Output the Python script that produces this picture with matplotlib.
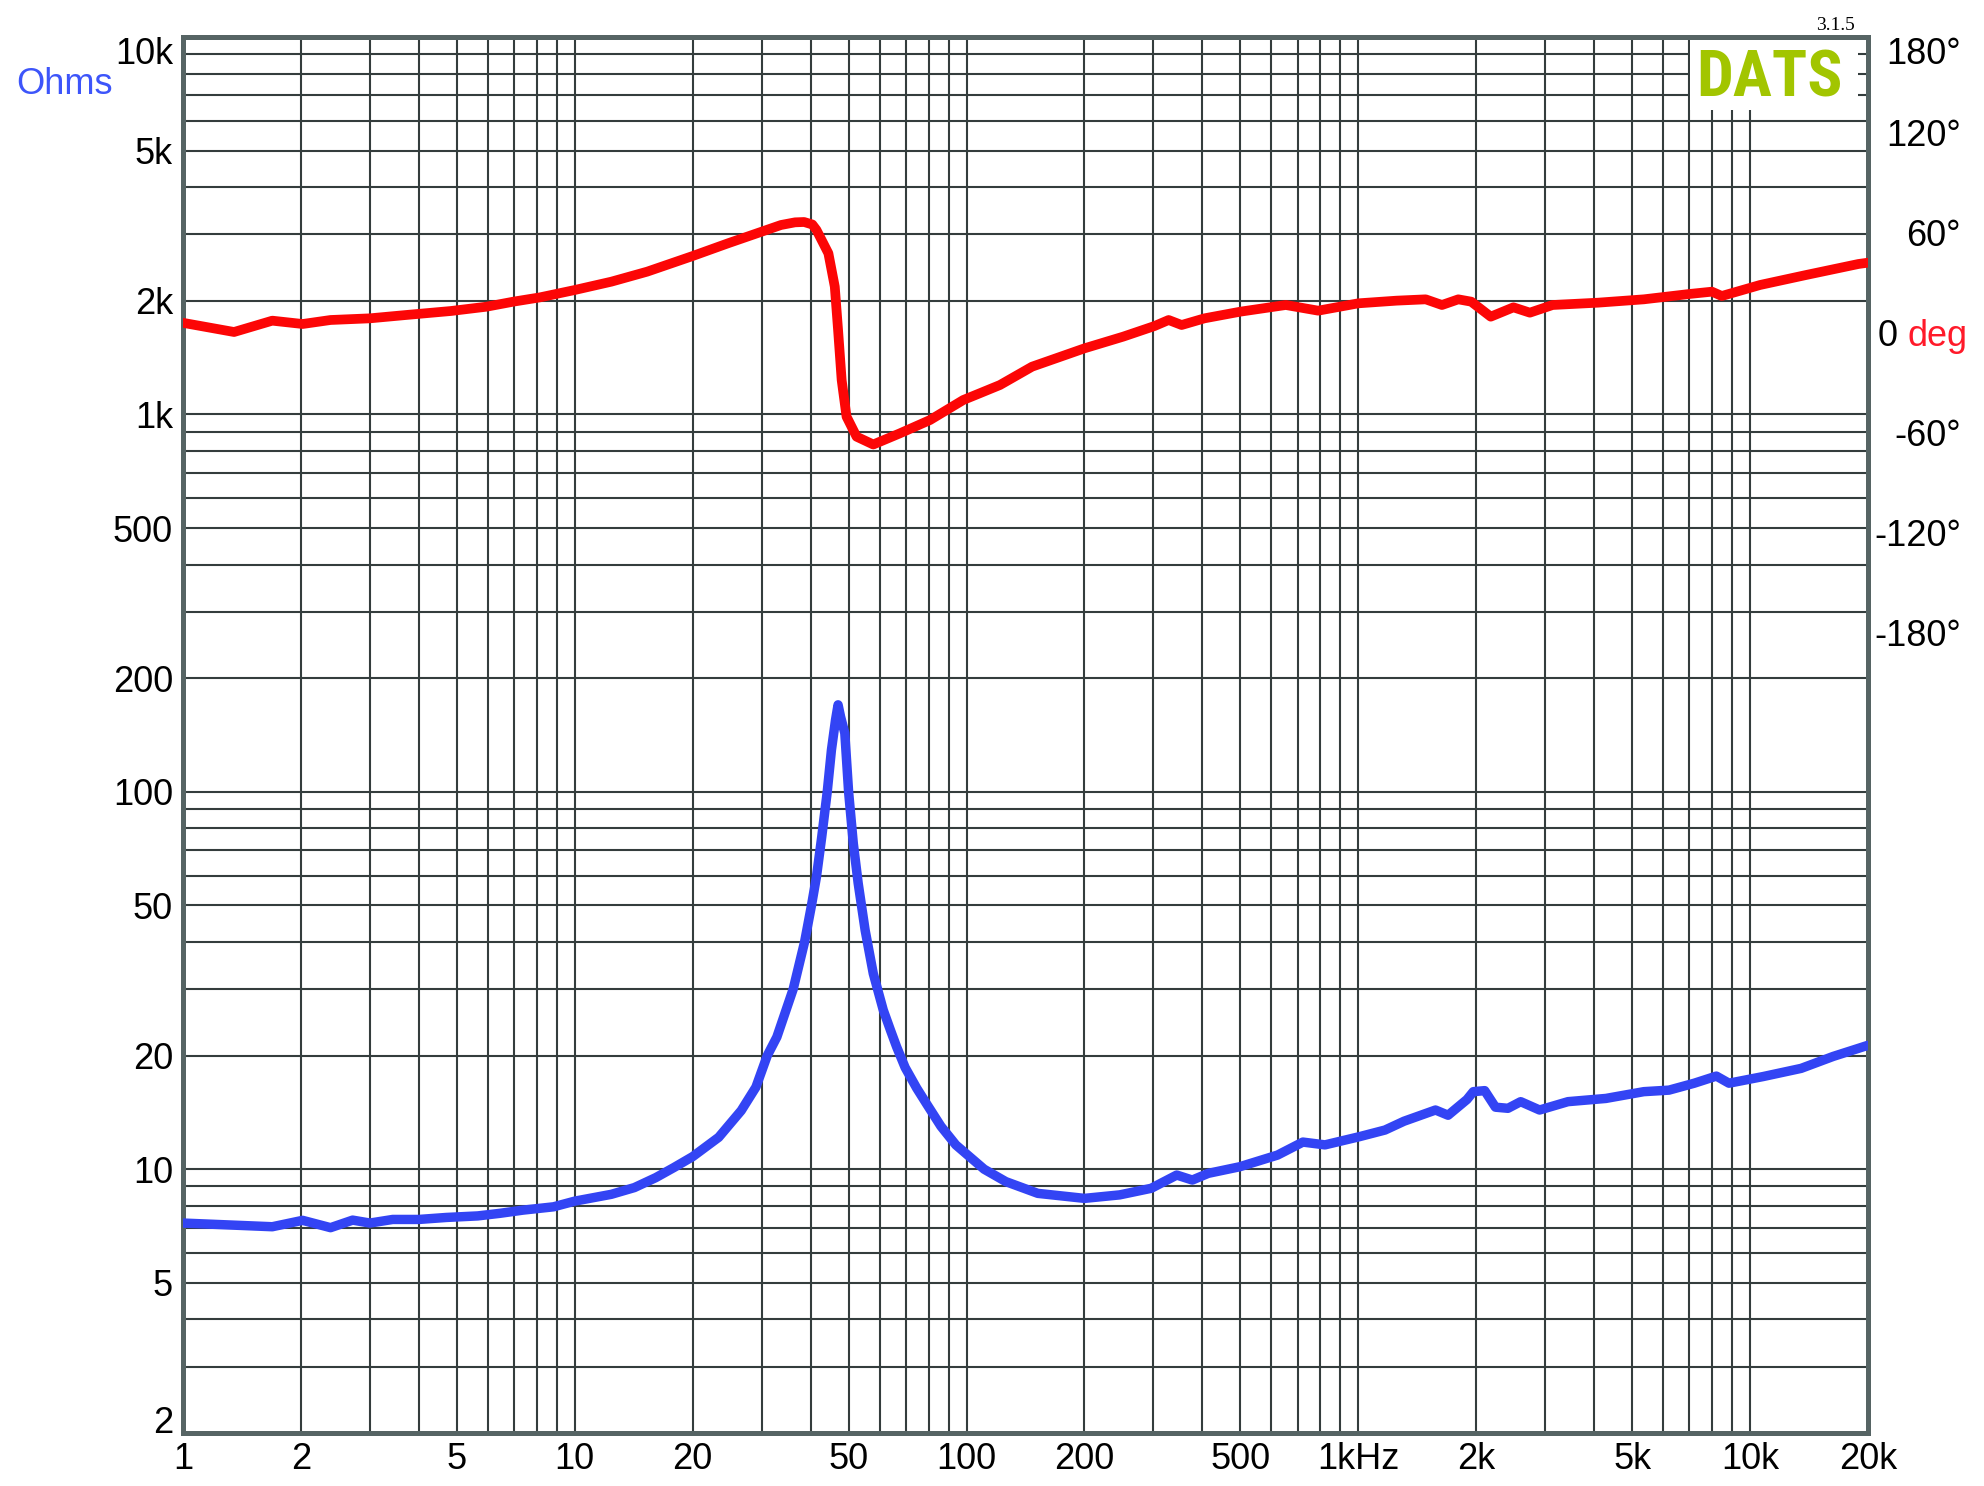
import numpy as np
import matplotlib
matplotlib.use('Agg')
import matplotlib.pyplot as plt
from matplotlib import font_manager
from matplotlib.patches import Rectangle
from matplotlib.ticker import FixedLocator, NullFormatter
import matplotlib.transforms as mtransforms

# impedance magnitude (Hz, ohms)
imp_freq = [1.0, 1.69, 2.02, 2.38, 2.71, 3.0, 3.43, 4.0, 4.7, 5.65, 6.44, 7.37, 8.83,
            10, 12.4, 14.2, 16.1, 17.9, 20, 23.3, 26.6, 29.0, 31.0, 32.8, 36.1, 38.6,
            40.2, 41.4, 42.7, 44.1, 45.2, 46.3, 47.0, 47.7, 48.9, 50.0, 51.4, 52.9,
            55.1, 57.8, 61.3, 64.0, 66.3, 69.7, 74.6, 79.4, 86.0, 93.9, 110.9, 126, 152, 200,
            246, 296, 344, 377, 414, 498, 622, 722, 822, 1008, 1170, 1308, 1574,
            1695, 1894, 1966, 2102, 2239, 2410, 2597, 2902, 3429, 4285, 5355, 6209,
            7205, 8203, 8834, 10800, 13500, 16300, 20000]
imp_ohms = [7.2, 7.04, 7.32, 7.0, 7.33, 7.2, 7.36, 7.36, 7.45, 7.52, 7.64, 7.79, 7.95,
            8.23, 8.58, 8.94, 9.5, 10.1, 10.8, 12.15, 14.3, 16.5, 20.0, 22.4, 30, 40,
            50, 59.6, 76, 100, 129, 155, 170, 158, 143, 100, 73, 57.2,
            43, 33, 26.4, 23.3, 21.1, 18.6, 16.4, 14.8, 13.0, 11.6, 10.0, 9.27, 8.63, 8.37,
            8.55, 8.9, 9.65, 9.36, 9.75, 10.15, 10.9, 11.8, 11.6, 12.2, 12.7, 13.4, 14.35,
            13.9, 15.3, 16.05, 16.15, 14.6, 14.5, 15.1, 14.35, 15.1, 15.4, 16.05, 16.2,
            16.9, 17.65, 16.9, 17.6, 18.5, 19.9, 21.3]

# phase (Hz, degrees)
ph_freq = [1.0, 1.35, 1.69, 2.02, 2.38, 3.0, 3.71, 4.83, 5.96, 6.97, 8.16, 10, 12.4,
           15.3, 20, 24.6, 30, 33.6, 36.5, 38.5, 40.4, 41.4, 44.4, 46.1, 47.0, 48.0, 49.4,
           52.4, 57.8, 67.6, 80.7, 98.1, 108, 121.7, 147, 200, 251, 302, 328, 354,
           405, 500, 653, 790, 1000, 1251, 1486, 1635, 1800, 1942, 2178, 2489, 2741,
           3133, 4093, 5355, 6995, 7992, 8468, 10600, 13900, 18900, 20000]
ph_deg = [5.5, 0.0, 6.8, 4.8, 7.2, 8.2, 10.2, 12.6, 15.2, 18.2, 20.8, 25.2, 30.2,
          36.2, 45.6, 53.2, 60.2, 64.2, 65.8, 66.0, 64.5, 61.2, 47.2, 27.2, 1.2, -28.8, -50.8,
          -62.8, -67.5, -60.8, -52.8, -40.8, -36.8, -31.8, -20.8, -9.8, -2.8, 3.6, 7.2, 4.2,
          8.2, 12.2, 16.2, 12.8, 17.2, 18.8, 19.6, 16.2, 19.6, 18.2, 9.2, 14.8, 11.6,
          16.2, 17.6, 19.6, 22.8, 24.2, 21.6, 28.2, 34.2, 40.8, 41.6]

x_ticks = [1, 2, 5, 10, 20, 50, 100, 200, 500, 1000, 2000, 5000, 10000, 20000]
x_labels = ['1', '2', '5', '10', '20', '50', '100', '200', '500', '1kHz', '2k', '5k', '10k', '20k']
y_ticks = [2, 5, 10, 20, 50, 100, 200, 500, 1000, 2000, 5000, 10000]
y_labels = ['2', '5', '10', '20', '50', '100', '200', '500', '1k', '2k', '5k', '10k']
ph_ticks = [120, 60, -60, -120, -180]
ph_labels = ['120°', '60°', '-60°', '-120°', '-180°']

plt.rcParams['font.family'] = ['Liberation Sans', 'DejaVu Sans']
names = {f.name for f in font_manager.fontManager.ttflist}
logo_font = None
for cand in ['Liberation Sans Narrow', 'Arial Narrow', 'Roboto Condensed', 'Open Sans Condensed']:
    if cand in names:
        logo_font = cand
        break

W, H = 1984, 1486
fig = plt.figure(figsize=(W / 100, H / 100), dpi=100)
L, R, T, B = 183, 1868, 37, 1433
ax = fig.add_axes([L / W, 1 - B / H, (R - L) / W, (B - T) / H])
ax.set_xscale('log')
ax.set_yscale('log')
ax.set_xlim(1, 20000)
ax.set_ylim(2, 10000)

grid_x = [m * 10 ** k for k in range(5) for m in range(1, 10) if m * 10 ** k <= 20000]
grid_y = [m * 10 ** k for k in range(5) for m in range(1, 10) if 2 <= m * 10 ** k <= 10000]
ax.xaxis.set_major_locator(FixedLocator(x_ticks))
ax.set_xticklabels(x_labels)
ax.xaxis.set_minor_locator(FixedLocator(grid_x))
ax.xaxis.set_minor_formatter(NullFormatter())
ax.yaxis.set_major_locator(FixedLocator(y_ticks))
ax.yaxis.set_major_formatter(NullFormatter())
ax.yaxis.set_minor_locator(FixedLocator(grid_y))
ax.yaxis.set_minor_formatter(NullFormatter())
ax.grid(which='both', color='#343d3d', lw=1.5)
ax.tick_params(which='both', length=0)
ax.tick_params(axis='x', pad=6.5, labelsize=26)
for s in ax.spines.values():
    s.set_color('#566464')
    s.set_linewidth(3.6)

# left labels
tr = mtransforms.blended_transform_factory(ax.transAxes, ax.transData)
for t, lab in zip(y_ticks, y_labels):
    va = 'center_baseline'
    if t == 10000:
        va = 'top'
    elif t == 2:
        va = 'baseline'
    ax.text(-10 / (R - L), t, lab, transform=tr, ha='right', va=va, fontsize=26)

ax.plot(imp_freq, imp_ohms, color='#3344f4', lw=6.8, solid_joinstyle='round',
        solid_capstyle='round', zorder=3)

# logo box
ax.add_patch(Rectangle(((1690 - L) / (R - L), (B - 110) / (B - T)), 168 / (R - L), 70 / (B - T),
                       transform=ax.transAxes, facecolor='white', edgecolor='none', zorder=2))

ax2 = ax.twinx()
ax2.set_ylim(-660.6, 177)
ax2.set_yticks([])
for s in ax2.spines.values():
    s.set_visible(False)
ax2.plot(ph_freq, ph_deg, color='#fc0606', lw=7, solid_joinstyle='round',
         solid_capstyle='round', zorder=3)

tr2 = mtransforms.blended_transform_factory(ax2.transAxes, ax2.transData)
xr = (1961 - L) / (R - L)
for t, lab in zip(ph_ticks, ph_labels):
    ax2.text(xr, t, lab, transform=tr2, ha='right', va='center_baseline', fontsize=26)
ax2.text(xr, 1.0, '180°', transform=ax2.transAxes, ha='right', va='top', fontsize=26)
ax2.text((1878 - L) / (R - L), 0, '0', transform=tr2, ha='left', va='center_baseline', fontsize=26)
ax2.text((1907 - L) / (R - L), 0, 'deg', transform=tr2, ha='left', va='center_baseline',
         fontsize=26, color='#ff1a2a')

fig.text(65 / W, 1 - 80.5 / H, 'Ohms', ha='center', va='center_baseline', fontsize=26,
         color='#3d55fa')
if logo_font:
    fig.text(1769.5 / W, 1 - 96.7 / H, 'DATS', ha='center', va='baseline', fontsize=47,
             fontweight='bold', family=logo_font, color='#a2c500')
else:
    fig.text(1769.5 / W, 1 - 96.7 / H, 'DATS', ha='center', va='baseline', fontsize=42,
             fontweight='bold', color='#a2c500')
fig.text(1835 / W, 1 - 23 / H, '3.1.5', ha='center', va='center_baseline', fontsize=14,
         family='Liberation Serif')

fig.savefig('out.png', dpi=100)
